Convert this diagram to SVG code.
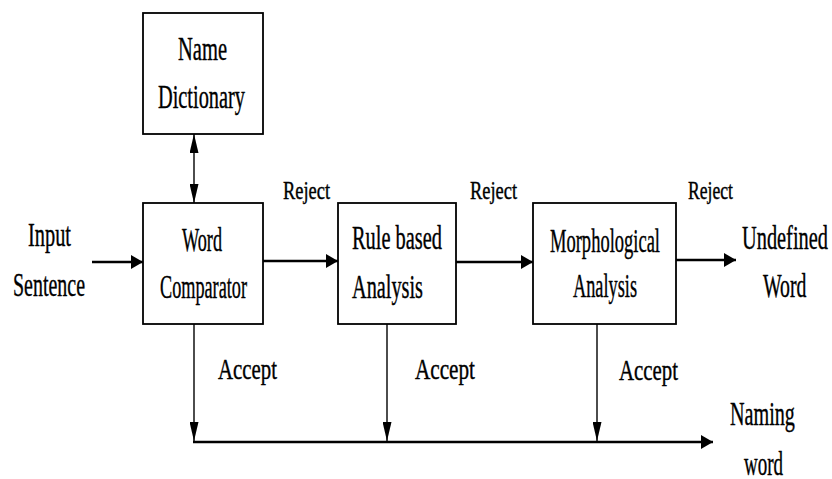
<svg xmlns="http://www.w3.org/2000/svg" width="832" height="479" viewBox="0 0 832 479">
<style>
.box{fill:#fff;stroke:#000;stroke-width:1.8}
.t{font-family:"Liberation Serif","Times New Roman",serif;fill:#000;stroke:#000;stroke-width:0.4;font-size:34px}
.r{font-size:25px}
.a{font-size:30px}
.h{stroke:#000;stroke-width:2.4;fill:none}
.v{stroke:#000;stroke-width:1.4;fill:none}
</style>
<defs>
<marker id="ah" viewBox="0 0 12 14" refX="12" refY="7" markerWidth="12" markerHeight="14" markerUnits="userSpaceOnUse" orient="auto"><path d="M0,0 L12,7 L0,14 z" fill="#000"/></marker>
<marker id="av" viewBox="0 0 19 9" refX="19" refY="4.5" markerWidth="19" markerHeight="9" markerUnits="userSpaceOnUse" orient="auto-start-reverse"><path d="M0,0 L19,4.5 L0,9 z" fill="#000"/></marker>
</defs>
<rect width="832" height="479" fill="#fff"/>
<g id="connectors">
<line class="v" x1="194" y1="134" x2="194" y2="203" marker-start="url(#av)" marker-end="url(#av)"/>
<line class="h" x1="92" y1="262" x2="143" y2="262" marker-end="url(#ah)"/>
<line class="h" x1="263" y1="261" x2="338" y2="261" marker-end="url(#ah)"/>
<line class="h" x1="456" y1="262" x2="533" y2="262" marker-end="url(#ah)"/>
<line class="h" x1="676" y1="260" x2="736" y2="260" marker-end="url(#ah)"/>
<line class="v" x1="194" y1="324" x2="194" y2="441" marker-end="url(#av)"/>
<line class="v" x1="387" y1="324" x2="387" y2="441" marker-end="url(#av)"/>
<line class="v" x1="597" y1="324" x2="597" y2="441" marker-end="url(#av)"/>
<line class="h" x1="193" y1="442" x2="713" y2="442" marker-end="url(#ah)"/>
<text class="t r" x="283" y="199" textLength="47" lengthAdjust="spacingAndGlyphs">Reject</text>
<text class="t r" x="470" y="199" textLength="47" lengthAdjust="spacingAndGlyphs">Reject</text>
<text class="t r" transform="translate(688,199) scale(0.704,1)">Reject</text>
<text class="t a" x="218" y="379" textLength="59" lengthAdjust="spacingAndGlyphs">Accept</text>
<text class="t a" x="415" y="379" textLength="60" lengthAdjust="spacingAndGlyphs">Accept</text>
<text class="t a" x="619" y="380" textLength="59" lengthAdjust="spacingAndGlyphs">Accept</text>
</g>
<g id="name-dictionary">
<rect class="box" x="143" y="13" width="120" height="121"/>
<text class="t" x="178" y="60" textLength="49" lengthAdjust="spacingAndGlyphs">Name</text>
<text class="t" x="158" y="108" textLength="87" lengthAdjust="spacingAndGlyphs">Dictionary</text>
</g>
<g id="input-sentence">
<text class="t" x="28" y="246" textLength="43" lengthAdjust="spacingAndGlyphs">Input</text>
<text class="t" x="13" y="296" textLength="72" lengthAdjust="spacingAndGlyphs">Sentence</text>
</g>
<g id="word-comparator">
<rect class="box" x="143" y="203" width="120" height="121"/>
<text class="t" x="182" y="251" textLength="40" lengthAdjust="spacingAndGlyphs">Word</text>
<text class="t" x="160" y="298" textLength="87" lengthAdjust="spacingAndGlyphs">Comparator</text>
</g>
<g id="rule-based-analysis">
<rect class="box" x="338" y="203" width="118" height="121"/>
<text class="t" x="352" y="249" textLength="90" lengthAdjust="spacingAndGlyphs">Rule based</text>
<text class="t" x="352" y="298" textLength="71" lengthAdjust="spacingAndGlyphs">Analysis</text>
</g>
<g id="morphological-analysis">
<rect class="box" x="533" y="203" width="143" height="121"/>
<text class="t" x="550" y="252" textLength="110" lengthAdjust="spacingAndGlyphs">Morphological</text>
<text class="t" x="573" y="297" textLength="64" lengthAdjust="spacingAndGlyphs">Analysis</text>
</g>
<g id="undefined-word">
<text class="t" transform="translate(742,249) scale(0.599,1)">Undefined</text>
<text class="t" transform="translate(763,297) scale(0.581,1)">Word</text>
</g>
<g id="naming-word">
<text class="t" transform="translate(730,425) scale(0.593,1)">Naming</text>
<text class="t" transform="translate(744,475) scale(0.558,1)">word</text>
</g>
</svg>
